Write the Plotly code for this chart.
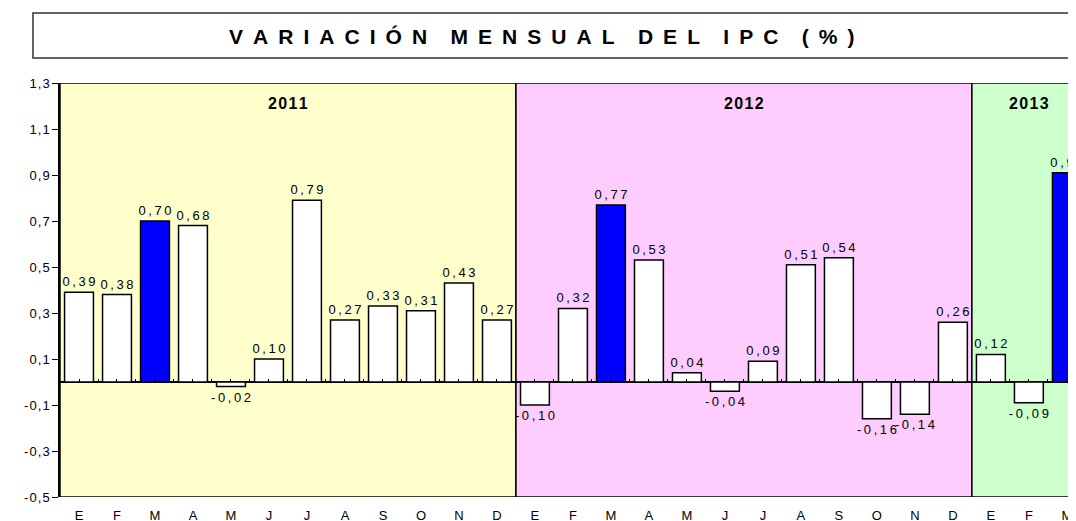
import plotly.graph_objects as go

months = ["E", "F", "M", "A", "M", "J", "J", "A", "S", "O", "N", "D",
          "E", "F", "M", "A", "M", "J", "J", "A", "S", "O", "N", "D",
          "E", "F", "M"]
values = [0.39, 0.38, 0.70, 0.68, -0.02, 0.10, 0.79, 0.27, 0.33, 0.31, 0.43, 0.27,
          -0.10, 0.32, 0.77, 0.53, 0.04, -0.04, 0.09, 0.51, 0.54, -0.16, -0.14, 0.26,
          0.12, -0.09, 0.91]
years = ["2011", "2012", "2013"]
year_start = [0, 12, 24]
year_end = [11, 23, 26]
year_label_pos = [5.5, 17.5, 25]
year_colors = ["#FFFFCC", "#FFCCFF", "#CCFFCC"]
y_ticks = [-0.5, -0.3, -0.1, 0.1, 0.3, 0.5, 0.7, 0.9, 1.1, 1.3]

THIN = "\u2009"
HAIR = "\u200a"
FONT = "Liberation Sans, Arial, sans-serif"


def spaced(s, sep):
    return sep.join(list(s))


def num(v, nd):
    return f"{v:.{nd}f}".replace(".", ",")


x = list(range(len(values)))
bar_colors = ["#0000FF" if i % 12 == 2 else "#FFFFFF" for i in x]
bar_text = [spaced(num(v, 2), THIN) for v in values]

fig = go.Figure()
fig.add_trace(go.Bar(
    x=x, y=values,
    marker=dict(color=bar_colors, line=dict(color="black", width=1.5)),
    width=0.76,
    text=bar_text,
    textposition="outside",
    constraintext="none",
    textfont=dict(family=FONT, size=13, color="black"),
    cliponaxis=True,
    showlegend=False,
))
# invisible trace for the tick-mark axis at zero
fig.add_trace(go.Scatter(x=[x[0]], y=[0], xaxis="x2", mode="markers",
                         marker=dict(opacity=0), showlegend=False, hoverinfo="skip"))

for yr, s, e, c, lp in zip(years, year_start, year_end, year_colors, year_label_pos):
    fig.add_shape(type="rect", xref="x", yref="y", x0=s - 0.5, x1=e + 0.5,
                  y0=-0.5, y1=1.3, fillcolor=c, line=dict(color="black", width=1.5),
                  layer="below")
    fig.add_annotation(x=lp, y=1.21, xref="x", yref="y",
                       text="<b>" + spaced(yr, HAIR) + "</b>", showarrow=False,
                       font=dict(family=FONT, size=16, color="black"))

# title box
fig.add_shape(type="rect", xref="paper", yref="paper", x0=-0.0266, x1=1.02,
              y0=1.0604, y1=1.169, line=dict(color="#333333", width=1.5),
              fillcolor="white")
title = "VARIACIÓN MENSUAL DEL IPC (%)"
letter_sep = "\u00a0" + THIN
word_sep = "\u00a0" * 4
title_text = word_sep.join(letter_sep.join(list(w)) for w in title.split(" "))
fig.add_annotation(xref="paper", yref="paper", x=0.474, y=1.1135,
                   xanchor="center", yanchor="middle",
                   text="<b>" + title_text + "</b>", showarrow=False,
                   font=dict(family=FONT, size=21, color="black"))

fig.update_layout(
    width=1068, height=513,
    margin=dict(l=52, r=0, t=75, b=24, autoexpand=False),
    paper_bgcolor="white", plot_bgcolor="white",
    xaxis=dict(range=[-0.5, 26.24], tickvals=x, ticktext=months, showgrid=False,
               zeroline=False, showline=False, ticks="", automargin=False,
               tickfont=dict(family=FONT, size=13, color="black"),
               ticklabelstandoff=9),
    xaxis2=dict(overlaying="x", matches="x", anchor="free", position=0.5 / 1.8,
                side="bottom", showline=False, showgrid=False, zeroline=False,
                ticks="inside", ticklen=3, tickcolor="black", tickwidth=1,
                automargin=False,
                tickvals=[i * 0.5 - 0.5 for i in range(55)], showticklabels=False),
    yaxis=dict(range=[-0.5, 1.3], tickvals=y_ticks,
               ticktext=[spaced(num(v, 1), HAIR) for v in y_ticks],
               showgrid=False, zeroline=True, zerolinecolor="black",
               zerolinewidth=1.5, showline=True, linecolor="black", linewidth=1.5,
               ticks="outside", ticklen=6, tickcolor="black", automargin=False,
               tickfont=dict(family=FONT, size=13, color="black")),
)

fig.write_html("out.html")
